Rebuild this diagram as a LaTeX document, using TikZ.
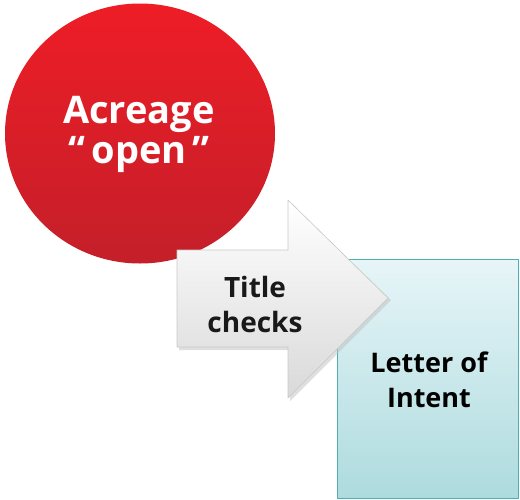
\documentclass[tikz,border=0pt]{standalone}
\usepackage{fontspec}
\setmainfont{Open Sans}
\usetikzlibrary{shapes.geometric}
\definecolor{redtop}{HTML}{EE1D26}
\definecolor{redbot}{HTML}{C41F2A}
\definecolor{boxtop}{HTML}{E7F5F8}
\definecolor{boxbot}{HTML}{ADDBDE}
\definecolor{boxline}{HTML}{4FAFB2}
\definecolor{arrtop}{HTML}{FFFFFF}
\definecolor{arrbot}{HTML}{D9D9D9}
\definecolor{arrline}{HTML}{C8C8C8}
\tikzset{
  lbl/.style={align=center, inner sep=0pt, font=\bfseries},
}
\begin{document}
\begin{tikzpicture}[x=1pt,y=-1pt]
\useasboundingbox (0,0) rectangle (520,499);
% red circle
\shade[top color=redtop, bottom color=redbot] (140,133.5) ellipse [x radius=135, y radius=130];
% box
\shade[top color=boxtop, bottom color=boxbot] (337,259) rectangle (518,498);
\draw[boxline, line width=1pt] (337,259) rectangle (518,498);
% arrow
\fill[black!25, opacity=0.5] (179,253) -- (290,253) -- (290,203) -- (391,300) -- (290,401) -- (290,350) -- (179,350) -- cycle;
\shade[top color=arrtop, bottom color=arrbot, draw=arrline, line width=0.6pt, line join=round]
  (177,250) -- (288,250) -- (288,200) -- (388,298) -- (288,398) -- (288,347) -- (177,347) -- cycle;
% texts
\node[lbl, text=white, font=\bfseries\fontsize{38}{40}\selectfont] (acre) at (139,134) {Acreage\\“\,open\,”};
\node[lbl, text=black!90, font=\bfseries\fontsize{28}{35}\selectfont] (title) at (255,304) {Title\\checks};
\node[lbl, text=black, font=\bfseries\fontsize{27}{35}\selectfont] (loi) at (429,380) {Letter of\\Intent};
\end{tikzpicture}
\end{document}
